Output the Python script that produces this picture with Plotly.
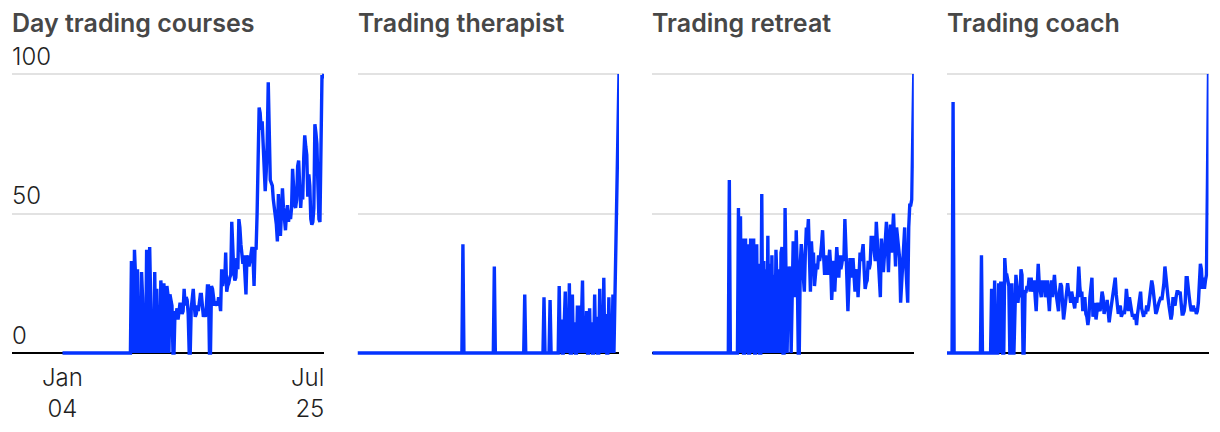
import plotly.graph_objects as go

# ---------------- data (monthly index, Jan 2004 = 0 ... Jul 2025 = 258) ----------------
TITLES = ["Day trading courses", "Trading therapist", "Trading retreat", "Trading coach"]
X_TICK_TEXT = ["Jan<br>04", "Jul<br>25"]
Y_TICKS = [0, 50, 100]

DAY_TRADING_COURSES = [
    0, 0, 0, 0, 0, 0, 0, 0, 0, 0,
    0, 0, 0, 0, 0, 0, 0, 0, 0, 0,
    0, 0, 0, 0, 0, 0, 0, 0, 0, 0,
    0, 0, 0, 0, 0, 0, 0, 0, 0, 0,
    0, 0, 0, 0, 0, 0, 0, 0, 0, 0,
    0, 0, 0, 0, 0, 0, 0, 0, 0, 0,
    0, 0, 0, 0, 0, 0, 0, 0, 33, 30,
    0, 37, 28, 0, 30, 0, 17, 0, 29, 20,
    0, 12, 0, 37, 9, 0, 38, 20, 0, 12,
    0, 29, 0, 23, 0, 17, 0, 26, 21, 0,
    25, 19, 0, 24, 21, 0, 21, 19, 17, 0,
    0, 15, 14, 16, 12, 15, 18, 16, 14, 15,
    23, 17, 20, 19, 14, 0, 0, 16, 19, 23,
    17, 13, 14, 17, 15, 19, 21, 21, 15, 13,
    14, 13, 17, 24, 24, 0, 0, 24, 23, 18,
    17, 18, 18, 17, 20, 18, 15, 30, 24, 27,
    25, 36, 22, 24, 25, 27, 28, 47, 33, 29,
    26, 27, 34, 30, 48, 45, 39, 34, 32, 35,
    30, 21, 35, 33, 31, 33, 35, 38, 34, 24,
    38, 37, 50, 70, 88, 86, 80, 83, 72, 68,
    58, 65, 76, 97, 75, 62, 61, 60, 55, 52,
    50, 46, 40, 57, 48, 42, 50, 59, 52, 48,
    44, 50, 53, 47, 51, 48, 52, 66, 57, 53,
    52, 55, 67, 69, 60, 52, 58, 55, 70, 78,
    74, 71, 56, 64, 60, 48, 46, 47, 52, 82,
    79, 75, 60, 48, 47, 75, 99, 99, 100,
]

TRADING_THERAPIST = [
    0, 0, 0, 0, 0, 0, 0, 0, 0, 0,
    0, 0, 0, 0, 0, 0, 0, 0, 0, 0,
    0, 0, 0, 0, 0, 0, 0, 0, 0, 0,
    0, 0, 0, 0, 0, 0, 0, 0, 0, 0,
    0, 0, 0, 0, 0, 0, 0, 0, 0, 0,
    0, 0, 0, 0, 0, 0, 0, 0, 0, 0,
    0, 0, 0, 0, 0, 0, 0, 0, 0, 0,
    0, 0, 0, 0, 0, 0, 0, 0, 0, 0,
    0, 0, 0, 0, 0, 0, 0, 0, 0, 0,
    0, 0, 0, 0, 0, 0, 0, 0, 0, 0,
    0, 0, 0, 0, 39, 0, 0, 0, 0, 0,
    0, 0, 0, 0, 0, 0, 0, 0, 0, 0,
    0, 0, 0, 0, 0, 0, 0, 0, 0, 0,
    0, 0, 0, 0, 0, 31, 0, 0, 0, 0,
    0, 0, 0, 0, 0, 0, 0, 0, 0, 0,
    0, 0, 0, 0, 0, 0, 0, 0, 0, 0,
    0, 0, 0, 0, 0, 21, 0, 0, 0, 0,
    0, 0, 0, 0, 0, 0, 0, 0, 0, 0,
    0, 0, 0, 0, 20, 0, 0, 0, 0, 0,
    19, 0, 0, 0, 0, 0, 0, 0, 0, 24,
    0, 12, 0, 0, 10, 22, 0, 14, 0, 25,
    0, 0, 21, 0, 11, 0, 0, 17, 0, 17,
    0, 12, 26, 0, 10, 0, 15, 0, 0, 16,
    0, 11, 0, 0, 21, 0, 13, 0, 0, 23,
    0, 12, 0, 27, 0, 14, 0, 0, 20, 0,
    12, 0, 21, 0, 21, 35, 57, 82, 100,
]

TRADING_RETREAT = [
    0, 0, 0, 0, 0, 0, 0, 0, 0, 0,
    0, 0, 0, 0, 0, 0, 0, 0, 0, 0,
    0, 0, 0, 0, 0, 0, 0, 0, 0, 0,
    0, 0, 0, 0, 0, 0, 0, 0, 0, 0,
    0, 0, 0, 0, 0, 0, 0, 0, 0, 0,
    0, 0, 0, 0, 0, 0, 0, 0, 0, 0,
    0, 0, 0, 0, 0, 0, 0, 0, 0, 0,
    0, 0, 0, 0, 0, 0, 62, 0, 0, 0,
    0, 0, 0, 0, 0, 52, 0, 49, 0, 41,
    0, 0, 41, 0, 39, 0, 0, 41, 0, 30,
    41, 0, 0, 39, 0, 32, 0, 0, 57, 0,
    33, 0, 30, 0, 42, 0, 32, 0, 35, 0,
    28, 0, 37, 25, 0, 30, 0, 36, 38, 0,
    0, 52, 32, 0, 22, 31, 28, 0, 20, 40,
    26, 20, 44, 30, 0, 0, 32, 39, 33, 27,
    22, 36, 45, 42, 48, 35, 22, 40, 33, 36,
    24, 28, 32, 30, 35, 33, 35, 39, 44, 35,
    28, 35, 30, 28, 33, 37, 31, 19, 27, 33,
    22, 29, 38, 32, 27, 35, 30, 32, 35, 33,
    48, 38, 29, 15, 25, 34, 30, 27, 34, 28,
    22, 27, 30, 20, 28, 36, 33, 36, 39, 30,
    23, 25, 26, 33, 30, 32, 42, 38, 42, 36,
    33, 47, 40, 33, 27, 20, 41, 35, 29, 35,
    41, 47, 38, 29, 40, 46, 36, 42, 50, 40,
    31, 45, 40, 36, 34, 18, 25, 32, 40, 45,
    32, 24, 18, 45, 53, 53, 55, 78, 100,
]

TRADING_COACH = [
    0, 0, 0, 0, 0, 0, 90, 0, 0, 0,
    0, 0, 0, 0, 0, 0, 0, 0, 0, 0,
    0, 0, 0, 0, 0, 0, 0, 0, 0, 0,
    0, 0, 0, 0, 35, 0, 0, 0, 0, 0,
    0, 0, 0, 0, 23, 0, 0, 26, 0, 0,
    0, 25, 0, 25, 25, 0, 0, 34, 28, 28,
    26, 24, 0, 0, 25, 0, 0, 20, 28, 24,
    18, 22, 20, 30, 28, 0, 0, 22, 22, 24,
    23, 27, 22, 27, 22, 24, 26, 20, 15, 24,
    32, 25, 22, 20, 26, 22, 26, 20, 22, 26,
    20, 15, 22, 26, 20, 24, 28, 23, 20, 18,
    15, 22, 25, 24, 18, 12, 15, 18, 23, 25,
    22, 21, 18, 22, 20, 18, 16, 20, 18, 22,
    31, 24, 20, 22, 15, 18, 20, 14, 13, 10,
    13, 20, 24, 27, 13, 16, 18, 12, 15, 18,
    16, 15, 18, 22, 20, 14, 16, 16, 19, 15,
    11, 14, 17, 19, 21, 24, 27, 21, 17, 14,
    16, 17, 13, 14, 15, 14, 17, 23, 18, 15,
    20, 17, 15, 13, 14, 12, 14, 10, 14, 17,
    20, 22, 16, 14, 13, 15, 14, 17, 15, 17,
    20, 23, 26, 24, 20, 17, 14, 15, 17, 18,
    19, 20, 19, 22, 25, 31, 26, 25, 20, 17,
    15, 12, 14, 20, 18, 17, 20, 22, 22, 21,
    22, 17, 14, 14, 15, 18, 27, 27, 22, 20,
    17, 15, 16, 17, 15, 16, 14, 15, 18, 27,
    32, 30, 23, 27, 23, 26, 28, 62, 100,
]

SERIES = [DAY_TRADING_COURSES, TRADING_THERAPIST, TRADING_RETREAT, TRADING_COACH]
N = len(DAY_TRADING_COURSES)
MONTHS = list(range(N))
for s in SERIES:
    assert len(s) == N, len(s)

# ---------------- layout constants ----------------
W, H = 1220, 432
BLUE = "#0433ff"
GRID = "#e2e2e2"
TEXT_DARK = "#1f1f1f"
TITLE_COL = "#474747"
NUM_FONT = "Inter"
PANEL_X0 = [62.5, 357.5, 652.3, 947.0]   # pixel x of first month
PANEL_W = 261.5                          # pixel width of data span
Y0_PX, Y100_PX = 353.0, 74.0
YLO, YHI = -3, 106
ppu = (Y0_PX - Y100_PX) / 100.0
dom_bottom = (H - (Y0_PX - YLO * ppu)) / H
dom_top = (H - (Y0_PX - YHI * ppu)) / H

fig = go.Figure()
annotations = []
for i, (title, vals) in enumerate(zip(TITLES, SERIES)):
    n = "" if i == 0 else str(i + 1)
    x0 = PANEL_X0[i]
    ppm = PANEL_W / (N - 1)
    if i == 0:
        left_px = 12.0
        xr = [-(x0 - left_px) / ppm, N - 1]
    else:
        left_px = x0
        xr = [0, N - 1]
    fig.add_trace(go.Scatter(
        x=MONTHS, y=vals, mode="lines",
        line=dict(color=BLUE, width=3.4, shape="linear"),
        xaxis="x" + n, yaxis="y" + n, hoverinfo="skip", showlegend=False,
    ))
    fig.layout["xaxis" + n] = dict(
        domain=[left_px / W, (x0 + PANEL_W) / W], range=xr,
        showgrid=False, zeroline=False, showticklabels=False, ticks="",
        showline=False, fixedrange=True, anchor="y" + n,
    )
    fig.layout["yaxis" + n] = dict(
        domain=[dom_bottom, dom_top], range=[YLO, YHI],
        tickvals=[v for v in Y_TICKS if v != 0], showticklabels=False,
        showgrid=True, gridcolor=GRID, gridwidth=2,
        zeroline=True, zerolinecolor="#000000", zerolinewidth=2.6,
        showline=False, ticks="", fixedrange=True, anchor="x" + n,
    )
    annotations.append(dict(
        text=title, xref="paper", yref="paper",
        x=((left_px if i == 0 else x0) - 2) / W, y=1 - 22.5 / H,
        xanchor="left", yanchor="middle", showarrow=False,
        font=dict(family="Inter", size=25, color=TITLE_COL, weight=600),
    ))

# y tick labels (first panel only), placed above their gridlines
for v in Y_TICKS:
    annotations.append(dict(
        text=str(v), xref="paper", yref="y", x=10.0 / W, y=v,
        xanchor="left", yanchor="middle", yshift=18, showarrow=False,
        font=dict(family=NUM_FONT, size=24, color=TEXT_DARK, weight=300),
    ))

# x tick labels (first panel only)
annotations.append(dict(
    text=X_TICK_TEXT[0], xref="x", yref="paper", x=MONTHS[0], y=1 - 393.0 / H,
    xanchor="center", yanchor="middle", align="center", showarrow=False,
    font=dict(family=NUM_FONT, size=24, color=TEXT_DARK, weight=300),
))
annotations.append(dict(
    text=X_TICK_TEXT[1], xref="x", yref="paper", x=MONTHS[-1], y=1 - 393.0 / H,
    xanchor="right", yanchor="middle", align="right", showarrow=False,
    xshift=2,
    font=dict(family=NUM_FONT, size=24, color=TEXT_DARK, weight=300),
))

fig.update_layout(
    width=W, height=H, margin=dict(l=0, r=0, t=0, b=0),
    paper_bgcolor="white", plot_bgcolor="white",
    annotations=annotations, showlegend=False,
)

fig.write_html("out.html", include_plotlyjs=True, full_html=True,
               config={"displayModeBar": False, "staticPlot": True},
               post_script="document.body.style.margin='0px';")
